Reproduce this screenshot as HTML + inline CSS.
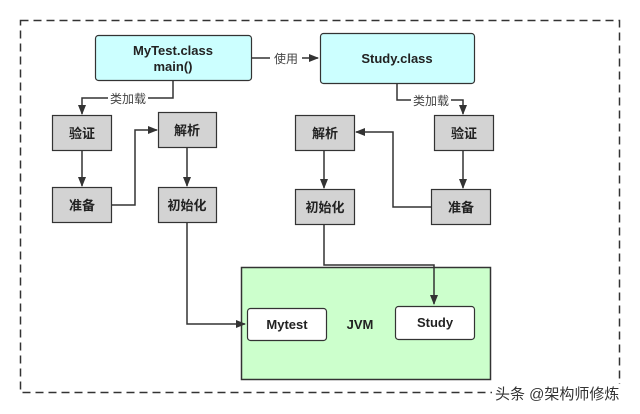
<!DOCTYPE html>
<html><head><meta charset="utf-8"><style>
html,body{margin:0;padding:0;background:#fff;width:640px;height:414px;overflow:hidden}
svg{display:block}
text{font-family:"Liberation Sans","Noto Sans CJK SC",sans-serif}
.b{font-weight:bold;font-size:13px;fill:#222}
.l{font-size:12px;fill:#444}
</style></head><body>
<svg width="640" height="414" viewBox="0 0 640 414">
<defs><marker id="a" markerWidth="10" markerHeight="10" refX="9" refY="5" orient="auto" markerUnits="userSpaceOnUse"><path d="M0,1 L10,5 L0,9 Z" fill="#333"/></marker></defs>
<rect x="20.5" y="20.5" width="599" height="372" fill="none" stroke="#333" stroke-width="1.5" stroke-dasharray="8,5"/>
<rect x="95.5" y="35.5" width="156" height="45" rx="3" fill="#ccffff" stroke="#333" stroke-width="1.2"/>
<text x="173" y="55" class="b" text-anchor="middle" fill="#133">MyTest.class</text>
<text x="173" y="71" class="b" text-anchor="middle">main()</text>
<rect x="320.5" y="33.5" width="154" height="50" rx="3" fill="#ccffff" stroke="#333" stroke-width="1.2"/>
<text x="397" y="63" class="b" text-anchor="middle">Study.class</text>
<g stroke="#333" stroke-width="1.5" fill="none">
<path d="M251,58 H318" marker-end="url(#a)"/>
<path d="M173,80 V98 H82 V114" marker-end="url(#a)"/>
<path d="M82,150 V186" marker-end="url(#a)"/>
<path d="M111,205 H135 V130 H157" marker-end="url(#a)"/>
<path d="M187,147 V186" marker-end="url(#a)"/>
<path d="M397,83 V100 H463 V114" marker-end="url(#a)"/>
<path d="M463,150 V188" marker-end="url(#a)"/>
<path d="M431,207 H393 V132 H356" marker-end="url(#a)"/>
<path d="M324,150 V188" marker-end="url(#a)"/>
</g>
<rect x="270" y="50" width="32" height="16" fill="#fff"/>
<text x="286" y="63" class="l" text-anchor="middle">使用</text>
<rect x="108" y="90" width="40" height="16" fill="#fff"/>
<text x="128" y="103" class="l" text-anchor="middle">类加载</text>
<rect x="411" y="92" width="40" height="16" fill="#fff"/>
<text x="431" y="105" class="l" text-anchor="middle">类加载</text>
<g fill="#d3d3d3" stroke="#333" stroke-width="1.2">
<rect x="52.5" y="115.5" width="59" height="35"/>
<rect x="52.5" y="187.5" width="59" height="35"/>
<rect x="158.5" y="112.5" width="58" height="35"/>
<rect x="158.5" y="187.5" width="58" height="35"/>
<rect x="295.5" y="115.5" width="59" height="35"/>
<rect x="295.5" y="189.5" width="59" height="35"/>
<rect x="434.5" y="115.5" width="59" height="35"/>
<rect x="431.5" y="189.5" width="59" height="35"/>
</g>
<text x="82" y="138" class="b" text-anchor="middle">验证</text>
<text x="82" y="210" class="b" text-anchor="middle">准备</text>
<text x="187" y="135" class="b" text-anchor="middle">解析</text>
<text x="187" y="210" class="b" text-anchor="middle">初始化</text>
<text x="325" y="138" class="b" text-anchor="middle">解析</text>
<text x="325" y="212" class="b" text-anchor="middle">初始化</text>
<text x="464" y="138" class="b" text-anchor="middle">验证</text>
<text x="461" y="212" class="b" text-anchor="middle">准备</text>
<rect x="241.5" y="267.5" width="249" height="112" fill="#ccffcc" stroke="#333" stroke-width="1.5"/>
<g stroke="#333" stroke-width="1.5" fill="none">
<path d="M187,222 V324 H245" marker-end="url(#a)"/>
<path d="M324,224 V265 H434 V304" marker-end="url(#a)"/>
</g>
<rect x="247.5" y="308.5" width="79" height="32" rx="3" fill="#fff" stroke="#333" stroke-width="1.2"/>
<text x="287" y="329" class="b" text-anchor="middle">Mytest</text>
<rect x="395.5" y="306.5" width="79" height="33" rx="3" fill="#fff" stroke="#333" stroke-width="1.2"/>
<text x="435" y="327" class="b" text-anchor="middle">Study</text>
<text x="360" y="329" class="b" text-anchor="middle" fill="#1a3a1a">JVM</text>
<rect x="492" y="384" width="140" height="18" fill="#fff"/>
<text x="495" y="399" font-size="15" fill="#333">头条 @架构师修炼</text>
</svg>
</body></html>
